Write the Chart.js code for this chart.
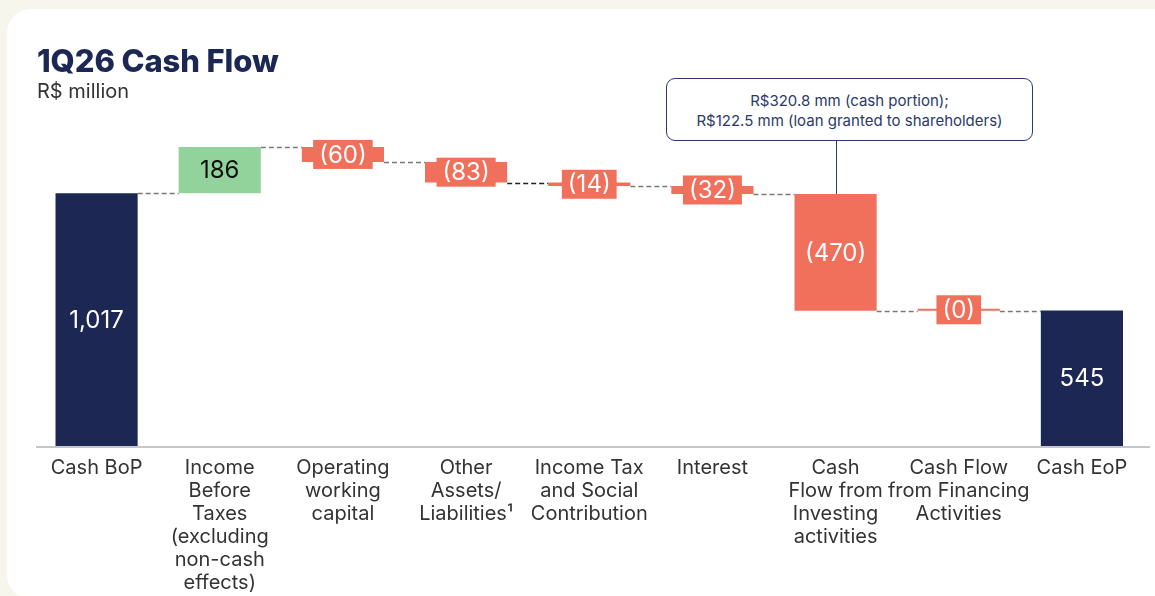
<!DOCTYPE html>
<html>
<head>
<meta charset="utf-8">
<script src="https://cdn.jsdelivr.net/npm/chart.js@4.4.1/dist/chart.umd.min.js"></script>
<style>
  html, body { margin:0; padding:0; width:1155px; height:596px; overflow:hidden; background:#f7f6ec; font-family: Inter, "Noto Sans", sans-serif; }
  #card { position:absolute; left:7px; top:9px; width:1170px; height:590px; background:#fff; border-radius:24px; }
  #title { position:absolute; left:37px; top:43px; font-size:31px; font-weight:800; color:#1c2853; line-height:36px; letter-spacing:-0.1px; }
  #subtitle { position:absolute; left:37px; top:79px; font-size:20px; color:#333; line-height:24px; }
  #note { position:absolute; left:666px; top:78px; width:365px; height:61px; border:1px solid #2b3a6b; border-radius:9px; box-sizing:content-box;
          color:#2b3a67; font-size:15px; line-height:20px; text-align:center; display:flex; flex-direction:column; justify-content:center; background:#fff; padding-top:2px; height:59px; }
  #wrap { position:absolute; left:0; top:0; width:1155px; height:596px; }
</style>
</head>
<body>
<div id="card"></div>
<div id="wrap"><canvas id="c" width="1155" height="596"></canvas></div>
<div id="title">1Q26 Cash Flow</div>
<div id="subtitle">R$ million</div>
<div id="note"><div>R$320.8 mm (cash portion);</div><div>R$122.5 mm (loan granted to shareholders)</div></div>
<script>
const categories = [
  "Cash BoP",
  ["Income","Before","Taxes","(excluding","non-cash","effects)"],
  ["Operating","working","capital"],
  ["Other","Assets/","Liabilities\u00B9"],
  ["Income Tax","and Social","Contribution"],
  "Interest",
  ["Cash","Flow from","Investing","activities"],
  ["Cash Flow","from Financing","Activities"],
  "Cash EoP"
];
const values = [1017, 186, -60, -83, -14, -32, -470, 0, 545];
const kinds = ["total","delta","delta","delta","delta","delta","delta","delta","total"];
const valueLabels = ["1,017","186","(60)","(83)","(14)","(32)","(470)","(0)","545"];
const noteIndex = 6;

const NAVY = "#1c2853", GREEN = "#92d39b", CORAL = "#f0705c";

// build floating ranges
const ranges = [], levels = [], colors = [];
let running = 0;
values.forEach((v, i) => {
  if (kinds[i] === "total") { ranges.push([0, v]); running = v; colors.push(NAVY); }
  else { ranges.push([running, running + v]); running += v; colors.push(v > 0 ? GREEN : CORAL); }
  levels.push(running);
});

const waterfallPlugin = {
  id: "waterfall",
  beforeDatasetsDraw(chart) {
    const ctx = chart.ctx, meta = chart.getDatasetMeta(0), y = chart.scales.y;
    ctx.save();
    ctx.strokeStyle = "#c6c6c6"; ctx.lineWidth = 2;
    ctx.beginPath(); ctx.moveTo(36, chart.chartArea.bottom + 1); ctx.lineTo(1150, chart.chartArea.bottom + 1); ctx.stroke();
    ctx.lineWidth = 1.5; ctx.setLineDash([5, 3]);
    for (let i = 0; i < meta.data.length - 1; i++) {
      const a = meta.data[i], b = meta.data[i + 1];
      const py = Math.round(y.getPixelForValue(levels[i])) + 0.5;
      ctx.strokeStyle = (i === 3) ? "#222" : "#7a7a7a";
      ctx.beginPath(); ctx.moveTo(a.x + a.width / 2, py); ctx.lineTo(b.x - b.width / 2, py); ctx.stroke();
    }
    ctx.restore();
  },
  afterDatasetsDraw(chart) {
    const ctx = chart.ctx, meta = chart.getDatasetMeta(0);
    ctx.save();
    ctx.font = "24px Inter, 'Noto Sans', sans-serif";
    ctx.textAlign = "center"; ctx.textBaseline = "middle";
    meta.data.forEach((el, i) => {
      const top = Math.min(el.y, el.base), bot = Math.max(el.y, el.base);
      const cy = (top + bot) / 2, h = bot - top;
      const txt = valueLabels[i];
      if (h < 32) {
        const w = ctx.measureText(txt).width + 12;
        ctx.fillStyle = colors[i];
        ctx.fillRect(el.x - w / 2, cy - 14.5, w, 29);
      }
      ctx.fillStyle = (colors[i] === GREEN) ? "#111" : "#fff";
      ctx.fillText(txt, el.x, cy + 1);
    });
    const el = meta.data[noteIndex];
    ctx.strokeStyle = "#2b3a6b"; ctx.lineWidth = 1;
    ctx.beginPath(); ctx.moveTo(Math.round(el.x) + 0.5, 141); ctx.lineTo(Math.round(el.x) + 0.5, Math.min(el.y, el.base)); ctx.stroke();
    ctx.restore();
  }
};

new Chart(document.getElementById("c"), {
  type: "bar",
  data: {
    labels: categories,
    datasets: [{ data: ranges, backgroundColor: colors, borderWidth: 0, borderSkipped: false,
                 categoryPercentage: 1, barPercentage: 0.667, minBarLength: 2 }]
  },
  options: {
    responsive: false, animation: false,
    layout: { padding: { top: 98, left: 35, right: 11.5, bottom: 0 } },
    plugins: { legend: { display: false }, tooltip: { enabled: false } },
    scales: {
      x: {
        grid: { display: false, drawTicks: false }, border: { display: false },
        ticks: { color: "#333", font: { family: "Inter, 'Noto Sans', sans-serif", size: 20, lineHeight: "23px" }, padding: 10, maxRotation: 0, autoSkip: false },
        afterFit(scale) { scale.height = 150; }
      },
      y: { display: false, min: 0, max: 1400 }
    }
  },
  plugins: [waterfallPlugin]
});
</script>
</body>
</html>
